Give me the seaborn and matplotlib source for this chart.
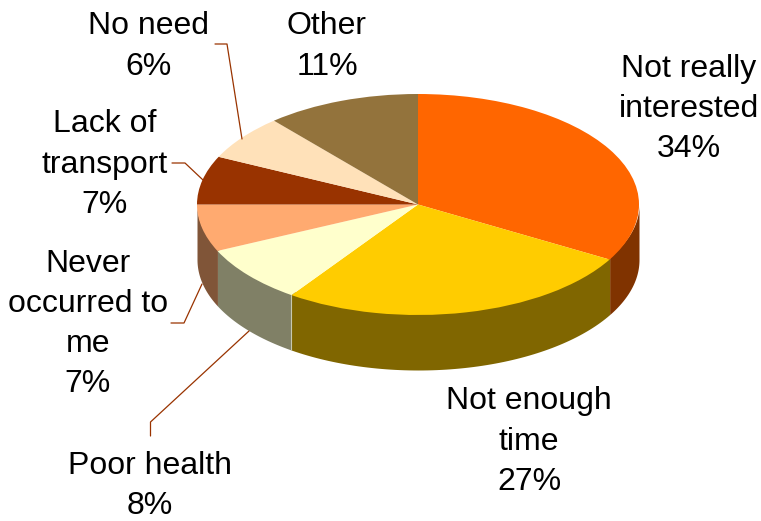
import numpy as np
import matplotlib
matplotlib.use("Agg")
import matplotlib.pyplot as plt
import seaborn as sns

# Share of the ellipse each slice takes in the picture, clockwise from 12 o'clock
slice_shares = [33.3, 26.4, 8.4, 6.9, 7.1, 6.6, 11.3]
# Percentages as printed on the labels
pct_labels = ["34%", "27%", "8%", "7%", "7%", "6%", "11%"]
categories = ["Not really\ninterested", "Not enough\ntime", "Poor health",
              "Never\noccurred to\nme", "Lack of\ntransport", "No need", "Other"]
slice_colors = ["#FF6600", "#FFCC00", "#FFFFCC", "#FFAA70", "#993300", "#FFE1B9", "#93733C"]

# Pie geometry in pixels
W, H = 761, 521
CX, CY = 418, 204.5
RX, RY = 221, 110.5
DEPTH = 55
LEADER = "#993300"

# Top line centre of each label, in pixels
label_pos = [(689, 68.5), (529, 401.5), (150, 465.5), (88, 263.5), (105, 124.5), (149, 26.5), (327, 26.5)]
LINE_H = 40.3

# Elbow leader lines, in pixels
leaders = [
    [(150.5, 436), (150.5, 422), (249, 331)],
    [(171, 323), (184, 323), (202, 284)],
    [(172, 163), (185, 163), (203, 180)],
    [(215, 44), (227, 44), (242, 139)],
]


def to_data(x, y):
    return (x - CX) / RX, (CY - y) / RY


def draw_walls(ax, shares, colors):
    # Side of the disc: only the part of each slice on the lower half shows
    edges = np.cumsum([0] + list(shares)) / sum(shares) * 360
    depth = DEPTH / RY
    for i, color in enumerate(colors):
        start, stop = max(edges[i], 90), min(edges[i + 1], 270)
        if stop <= start:
            continue
        a = np.radians(np.linspace(start, stop, 80))
        x, y = np.sin(a), np.cos(a)
        order = np.argsort(x)
        dark = tuple(c * 0.5 for c in matplotlib.colors.to_rgb(color))
        # top edge runs a bit under the pie so no white seam shows at the rim
        ax.fill_between(x[order], y[order] * 0.95, y[order] - depth, color=dark, lw=0, zorder=1)
    # light seam where the yellow and cream sides meet
    a = np.radians(edges[2])
    ax.plot([np.sin(a)] * 2, [np.cos(a), np.cos(a) - depth], color="#C8C8B0", lw=0.8, zorder=2)


def main():
    sns.set_theme(style="white")
    plt.rcParams["font.family"] = ["Liberation Sans", "DejaVu Sans"]

    fig, ax = plt.subplots(figsize=(W / 100, H / 100), dpi=100)
    fig.subplots_adjust(0, 0, 1, 1)

    draw_walls(ax, slice_shares, slice_colors)
    ax.pie(slice_shares, colors=slice_colors, startangle=90, counterclock=False,
           wedgeprops={"linewidth": 0, "zorder": 3})

    # Squash the circle into the tilted ellipse
    ax.set_aspect("auto")
    ax.set_xlim(to_data(0, 0)[0], to_data(W, 0)[0])
    ax.set_ylim(to_data(0, H)[1], to_data(0, 0)[1])
    ax.axis("off")

    for pts in leaders:
        xy = np.array([to_data(*p) for p in pts])
        ax.plot(xy[:, 0], xy[:, 1], color=LEADER, lw=0.9, zorder=4)

    for name, pct, (x, y) in zip(categories, pct_labels, label_pos):
        for i, line in enumerate(name.split("\n") + [pct]):
            tx, ty = to_data(x, y + i * LINE_H)
            ax.text(tx, ty, line, ha="center", va="center", fontsize=23, color="black", zorder=5)

    fig.savefig("out.png", dpi=100)
    plt.close(fig)


if __name__ == "__main__":
    main()
